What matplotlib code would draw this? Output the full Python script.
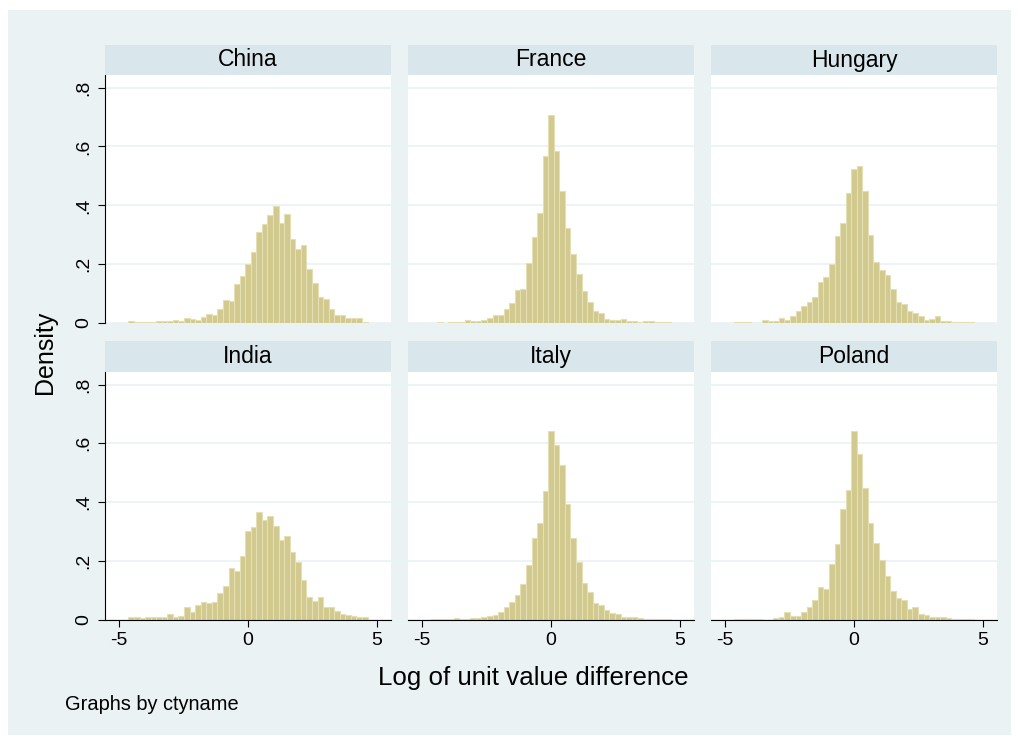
import numpy as np
import matplotlib
matplotlib.use("Agg")
import matplotlib.pyplot as plt
from matplotlib.patches import Rectangle

plt.rcParams['font.family'] = ['Liberation Sans', 'DejaVu Sans']

# histogram bins (shared by all panels)
bin_lo, bin_hi, n_bins = -4.63, 4.63, 43

countries = ["China", "France", "Hungary", "India", "Italy", "Poland"]

# density per bin (43 bins, left to right)
china = [0.008, 0.004, 0.004, 0.005, 0.005, 0.006, 0.007, 0.007, 0.009, 0.008,
         0.016, 0.014, 0.011, 0.019, 0.032, 0.028, 0.048, 0.078, 0.076, 0.133,
         0.161, 0.202, 0.243, 0.311, 0.338, 0.368, 0.398, 0.340, 0.372, 0.286,
         0.253, 0.266, 0.184, 0.135, 0.089, 0.082, 0.048, 0.028, 0.026, 0.018,
         0.018, 0.018, 0.005]
france = [0.0, 0.005, 0.0, 0.003, 0.003, 0.005, 0.009, 0.007, 0.008, 0.011,
          0.016, 0.027, 0.027, 0.048, 0.068, 0.111, 0.115, 0.203, 0.293, 0.375,
          0.567, 0.706, 0.583, 0.450, 0.324, 0.235, 0.165, 0.109, 0.072, 0.041,
          0.034, 0.015, 0.010, 0.011, 0.014, 0.007, 0.006, 0.005, 0.006, 0.008,
          0.005, 0.003, 0.003]
hungary = [0.003, 0.003, 0.003, 0.0, 0.0, 0.010, 0.007, 0.007, 0.016, 0.011,
           0.025, 0.042, 0.059, 0.072, 0.090, 0.140, 0.155, 0.199, 0.295, 0.341,
           0.441, 0.523, 0.532, 0.448, 0.299, 0.209, 0.179, 0.162, 0.115, 0.071,
           0.063, 0.042, 0.035, 0.025, 0.010, 0.012, 0.023, 0.008, 0.006, 0.004,
           0.004, 0.004, 0.005]
india = [0.008, 0.008, 0.006, 0.007, 0.008, 0.008, 0.010, 0.018, 0.009, 0.011,
         0.042, 0.026, 0.051, 0.058, 0.057, 0.061, 0.089, 0.115, 0.177, 0.166,
         0.215, 0.301, 0.314, 0.367, 0.339, 0.352, 0.319, 0.272, 0.284, 0.230,
         0.195, 0.134, 0.075, 0.064, 0.078, 0.041, 0.042, 0.028, 0.019, 0.014,
         0.011, 0.009, 0.007]
italy = [0.001, 0.002, 0.003, 0.002, 0.005, 0.003, 0.003, 0.004, 0.006, 0.008,
         0.011, 0.017, 0.025, 0.041, 0.059, 0.083, 0.121, 0.186, 0.277, 0.330,
         0.438, 0.642, 0.594, 0.527, 0.392, 0.277, 0.195, 0.124, 0.092, 0.057,
         0.048, 0.034, 0.023, 0.020, 0.008, 0.007, 0.008, 0.005, 0.003, 0.002,
         0.003, 0.003, 0.001]
poland = [0.002, 0.003, 0.003, 0.003, 0.002, 0.0, 0.0, 0.004, 0.007, 0.025,
          0.012, 0.012, 0.024, 0.044, 0.067, 0.111, 0.104, 0.190, 0.257, 0.375,
          0.440, 0.642, 0.562, 0.447, 0.330, 0.261, 0.201, 0.149, 0.096, 0.073,
          0.067, 0.037, 0.042, 0.018, 0.014, 0.007, 0.008, 0.009, 0.006, 0.003,
          0.002, 0.002, 0.002]
densities = [china, france, hungary, india, italy, poland]

y_ticks = [0, 0.2, 0.4, 0.6, 0.8]
y_labels = ["0", ".2", ".4", ".6", ".8"]
x_ticks = [-5, 0, 5]

bg = "#EAF2F3"
strip_col = "#D9E6EB"
bar_fill = "#D1C98D"
bar_edge = "#E4DFB4"

W, H = 1018, 740
fig = plt.figure(figsize=(W / 100, H / 100), dpi=100)
fig.patch.set_facecolor("white")

# light graph region inside a thin white border
fig.patches.append(Rectangle((8 / W, 1 - 735 / H), (1011 - 8) / W,
                             (735 - 10) / H, transform=fig.transFigure,
                             facecolor=bg, edgecolor="none", zorder=-10))


def px_axes(x0, y0, x1, y1):
    return fig.add_axes([x0 / W, 1 - y1 / H, (x1 - x0) / W, (y1 - y0) / H])


edges = np.linspace(bin_lo, bin_hi, n_bins + 1)
width = edges[1] - edges[0]

lefts = [105, 408, 711]
panel_w = 286
rows = [(45, 75, 323), (341, 372, 619.5)]  # strip top, plot top, plot bottom

for k, (name, dens) in enumerate(zip(countries, densities)):
    r, c = divmod(k, 3)
    st, pt, pb = rows[r]
    x0 = lefts[c]

    sax = px_axes(x0, st, x0 + panel_w, pt)
    sax.set_facecolor(strip_col)
    sax.set_xticks([])
    sax.set_yticks([])
    for s in sax.spines.values():
        s.set_visible(False)
    sax.text(0.5, 0.5, name, ha="center", va="center", fontsize=16.5,
             transform=sax.transAxes)

    ax = px_axes(x0, pt, x0 + panel_w, pb)
    ax.set_facecolor("white")
    ax.bar(edges[:-1], dens, width=width, align="edge", color=bar_fill,
           edgecolor=bar_edge, linewidth=0.8, zorder=2)
    ax.set_xlim(-5.536, 5.536)
    ax.set_ylim(0, 0.843)
    ax.set_yticks(y_ticks)
    ax.set_xticks(x_ticks)
    ax.grid(axis="y", color=bg, linewidth=1.2, zorder=1)
    ax.set_axisbelow(True)
    for s in ["top", "right"]:
        ax.spines[s].set_visible(False)
    ax.spines["left"].set_visible(c == 0)
    ax.spines["bottom"].set_visible(r == 1)
    ax.tick_params(direction="out", width=0.8, length=5, labelsize=14, pad=4)
    if c == 0:
        ax.set_yticklabels(y_labels, rotation=90, va="center")
    else:
        ax.tick_params(axis="y", length=0, labelleft=False)
    if r == 1:
        ax.set_xticklabels([str(t) for t in x_ticks])
    else:
        ax.tick_params(axis="x", length=0, labelbottom=False)

fig.text(45 / W, 1 - 352 / H, "Density", rotation=90, ha="center",
         va="center", fontsize=18)
fig.text(533 / W, 1 - 678 / H, "Log of unit value difference", ha="center",
         va="center", fontsize=18.6)
fig.text(65 / W, 1 - 705 / H, "Graphs by ctyname", ha="left", va="center",
         fontsize=14.4)

fig.savefig("out.png", dpi=100, facecolor=fig.get_facecolor())
